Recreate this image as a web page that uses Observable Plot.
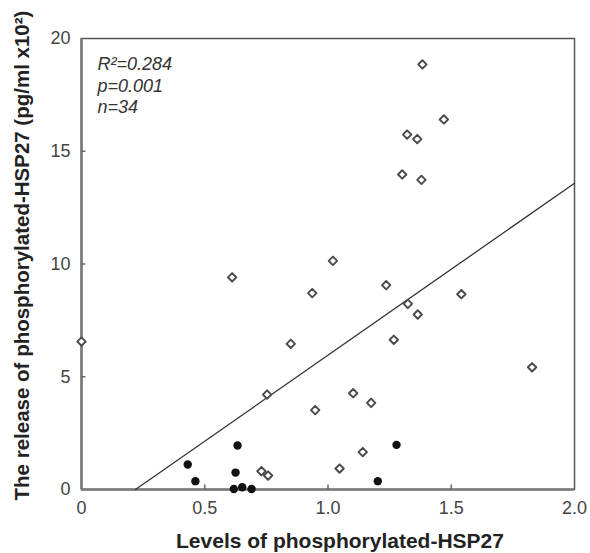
<!DOCTYPE html>
<html><head><meta charset="utf-8">
<script src="https://cdn.jsdelivr.net/npm/d3@7"></script>
<script src="https://cdn.jsdelivr.net/npm/@observablehq/plot@0.6"></script>
<style>body{margin:0;background:#fff}</style>
</head><body><div id="chart"></div>
<script>
// Open diamonds
const openX = [0.00, 0.611, 1.020, 0.936, 1.236, 0.849, 1.267, 0.753, 1.102, 1.175, 0.948, 1.141, 1.047, 0.730, 0.757, 1.383, 1.470, 1.321, 1.362, 1.301, 1.379, 1.324, 1.364, 1.541, 1.828];
const openY = [6.56, 9.41, 10.14, 8.71, 9.06, 6.46, 6.64, 4.21, 4.27, 3.84, 3.52, 1.66, 0.93, 0.81, 0.62, 18.85, 16.41, 15.74, 15.54, 13.97, 13.73, 8.23, 7.76, 8.66, 5.42];
// Filled circles
const filledX = [0.431, 0.462, 0.633, 0.625, 0.618, 0.652, 0.690, 1.202, 1.278];
const filledY = [1.11, 0.37, 1.95, 0.75, 0.02, 0.10, 0.02, 0.37, 1.98];
// Fitted regression line endpoints
const fitX = [0.219, 2.0];
const fitY = [0, 13.58];
const xTicks = [0, 0.5, 1.0, 1.5, 2.0];
const xTickLabels = ["0", "0.5", "1.0", "1.5", "2.0"];
const yTicks = [0, 5, 10, 15, 20];
const yTickLabels = ["0", "5", "10", "15", "20"];
const statsLines = ["R\u00b2=0.284", "p=0.001", "n=34"];
const xTitle = "Levels of phosphorylated-HSP27";
const yTitle = "The release of phosphorylated-HSP27 (pg/ml x10\u00b2)";

const openPts = openX.map((x, i) => ({x, y: openY[i]}));
const filledPts = filledX.map((x, i) => ({x, y: filledY[i]}));
const fitPts = fitX.map((x, i) => ({x, y: fitY[i]}));

const chart = Plot.plot({
  width: 590, height: 553,
  marginLeft: 81, marginRight: 16, marginTop: 38, marginBottom: 64,
  style: {fontFamily: "'Liberation Sans', Arial, sans-serif", background: "#fff", color: "#333"},
  x: {domain: [0, 2]},
  y: {domain: [0, 20]},
  marks: [
    Plot.frame({stroke: "#555", strokeWidth: 1.5}),
    Plot.ruleX([0], {stroke: "#777", strokeWidth: 2.5}),
    Plot.ruleY([0], {stroke: "#777", strokeWidth: 2.5}),
    Plot.ruleX(xTicks.slice(1, -1), {x: d => d, y1: 0, y2: 0.2, stroke: "#666", strokeWidth: 1.5}),
    Plot.ruleY(yTicks.slice(1, -1), {y: d => d, x1: 0, x2: 0.018, stroke: "#666", strokeWidth: 1.5}),
    Plot.axisX({ticks: xTicks, tickSize: 0, tickPadding: 12, fontSize: 18, fill: "#444",
      tickFormat: d => xTickLabels[xTicks.indexOf(d)], label: null}),
    Plot.axisY({ticks: yTicks, tickSize: 0, tickPadding: 11, fontSize: 18, fill: "#444",
      tickFormat: d => yTickLabels[yTicks.indexOf(d)], label: null}),
    Plot.line(fitPts, {x: "x", y: "y", stroke: "#333", strokeWidth: 1.3}),
    Plot.dot(openPts, {x: "x", y: "y", symbol: "diamond2", r: 3.8, stroke: "#4a4a4a", strokeWidth: 1.9, fill: "#fff", strokeLinejoin: "round"}),
    Plot.dot(filledPts, {x: "x", y: "y", r: 4.2, fill: "#111", stroke: "none"}),
    Plot.text([statsLines.join("\n")], {frameAnchor: "top-left", textAnchor: "start", lineAnchor: "top",
      dx: 16, dy: 17, fontSize: 18, fontStyle: "italic", lineHeight: 1.17, fill: "#333"}),
    Plot.text([xTitle], {frameAnchor: "bottom", textAnchor: "middle", lineAnchor: "middle",
      dx: 12, dy: 52, fontSize: 21, fontWeight: "bold", fill: "#222"}),
    Plot.text([yTitle], {frameAnchor: "left", textAnchor: "middle", lineAnchor: "middle", rotate: -90,
      dx: -59, dy: -8.5, fontSize: 20.5, fontWeight: "bold", fill: "#222"})
  ]
});
document.getElementById("chart").appendChild(chart);
</script>
</body></html>
